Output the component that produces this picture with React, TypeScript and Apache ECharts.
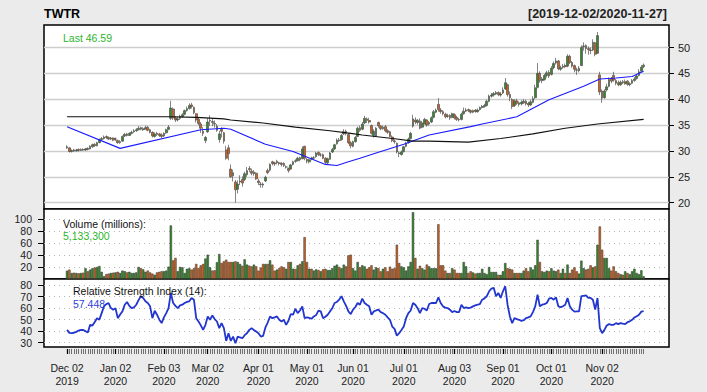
import React, { useEffect, useRef } from "react";
import * as echarts from "echarts";

// ---------- categories ----------
const startDate = "2019-12-02";
const endDate = "2020-11-27";
const holidays = ["2019-12-25", "2020-01-01", "2020-01-20", "2020-02-17", "2020-04-10", "2020-05-25", "2020-07-03", "2020-09-07", "2020-11-26"];
const monthLabelDates = ["2019-12-02", "2020-01-02", "2020-02-03", "2020-03-02", "2020-04-01", "2020-05-01", "2020-06-01", "2020-07-01", "2020-08-03", "2020-09-01", "2020-10-01", "2020-11-02"];
const monthNames = ["Jan", "Feb", "Mar", "Apr", "May", "Jun", "Jul", "Aug", "Sep", "Oct", "Nov", "Dec"];

// ---------- price data (OHLC) ----------
const openP = [
  30.6, 30.6, 29.9, 30.2, 30.0, 30.3, 30.1, 30.3, 30.2, 30.5, 30.4, 30.8, 31.3, 31.0, 31.6, 32.2, 32.4, 32.8, 32.6, 32.3, 32.5,
  32.3, 32.0, 31.6, 31.9, 32.9, 33.3, 33.0, 33.4, 33.7, 33.9, 34.1, 34.5, 34.1, 34.3, 34.6, 34.1, 33.6, 32.8, 33.4, 33.3, 33.1,
  32.9, 33.5, 34.2, 36.3, 38.1, 36.4, 36.0, 36.3, 36.6, 37.1, 37.8, 38.2, 38.9, 38.4, 37.2, 36.1, 35.2, 33.8, 32.0,
  33.7, 35.8, 35.7, 35.3, 34.0, 32.2, 34.2, 33.5, 30.2, 30.6, 26.5, 25.2, 24.0, 22.6, 24.0, 24.5, 24.5, 25.4, 26.6, 26.1, 25.6, 25.7,
  24.2, 23.6, 23.6, 24.2, 26.2, 26.3, 27.9, 27.7, 27.7, 27.7, 27.6, 27.6, 26.9, 26.6, 26.5, 27.4, 28.1, 28.1, 28.7, 28.5, 30.9,
  28.4, 27.9, 28.6, 28.6, 28.9, 29.7, 29.2, 29.3, 28.6, 27.7, 28.4, 29.8, 30.4, 31.4, 32.1, 32.2, 33.3, 33.8, 33.2, 31.6,
  30.9, 31.8, 32.8, 34.5, 34.2, 35.4, 36.2, 35.9, 34.9, 33.0, 32.9, 35.5, 34.8, 34.3, 34.7, 33.9, 33.7, 32.7, 31.9, 31.5, 29.6, 29.3,
  29.9, 30.9, 31.6, 32.4, 34.8, 36.0, 35.5, 35.8, 34.6, 35.3, 36.0, 35.2, 35.6, 36.5, 37.5, 39.0, 37.9, 37.6, 37.1, 36.7, 36.9, 36.5,
  37.0, 36.5, 36.1, 36.1, 37.2, 37.7, 38.0, 37.8, 37.5, 37.9, 37.6, 38.0, 38.4, 38.6, 38.8, 39.6, 40.6, 40.8, 41.0, 41.3, 40.8,
  41.2, 42.0, 42.8, 40.9, 39.9, 38.8, 39.7, 39.3, 39.1, 39.3, 39.6, 39.2, 38.9, 39.4, 40.3, 42.3, 45.0, 43.6, 43.8, 44.6, 45.2,
  44.8, 46.1, 47.0, 47.4, 45.8, 46.2, 46.5, 46.4, 48.3, 47.1, 46.5, 45.7, 45.5, 46.5, 50.2, 50.4, 49.8, 49.5, 49.5, 50.9, 48.9, 44.7,
  41.6, 40.3, 41.8, 42.5, 44.0, 44.6, 43.6, 43.2, 42.8, 43.4, 43.0, 43.5, 42.8, 43.1, 43.6, 44.0, 44.6, 45.4, 46.3,
];
const highP = [
  31.1, 30.7, 30.3, 30.4, 30.4, 30.5, 30.5, 30.5, 30.6, 30.7, 31.1, 31.4, 31.5, 31.8, 32.4, 32.7, 33.0, 33.0, 32.8, 32.7, 32.6,
  32.6, 32.2, 32.1, 33.0, 33.5, 33.5, 33.6, 33.9, 34.2, 34.4, 34.8, 34.7, 34.6, 34.9, 34.8, 34.3, 33.8, 33.6, 33.7, 33.5, 33.4,
  33.6, 34.3, 35.0, 39.7, 38.4, 36.7, 36.6, 37.0, 37.3, 38.0, 38.6, 39.2, 39.3, 38.6, 37.3, 36.4, 35.6, 34.6, 32.9,
  36.3, 36.9, 36.3, 35.9, 35.2, 33.9, 34.6, 33.7, 31.0, 31.2, 27.4, 26.4, 24.4, 24.3, 25.3, 25.1, 26.0, 26.9, 27.1, 26.6, 26.3, 25.9,
  24.6, 24.0, 23.9, 25.2, 26.6, 27.6, 28.1, 27.9, 28.3, 27.9, 27.8, 27.8, 27.2, 26.8, 27.5, 28.1, 28.4, 28.9, 28.9, 30.9, 31.0,
  28.6, 28.5, 28.9, 29.0, 29.8, 29.9, 29.6, 29.5, 28.8, 28.7, 29.8, 30.6, 31.4, 32.4, 32.5, 33.3, 34.2, 34.1, 33.4, 31.9,
  32.0, 32.9, 34.7, 34.9, 35.6, 36.8, 36.5, 36.4, 35.1, 34.2, 34.6, 35.7, 35.0, 34.9, 35.0, 34.2, 33.9, 33.0, 32.2, 31.6, 29.9, 30.1,
  31.0, 31.8, 32.6, 33.7, 37.0, 36.5, 36.2, 36.3, 35.8, 36.4, 36.1, 35.8, 36.7, 37.9, 38.2, 40.2, 38.3, 37.9, 37.4, 37.2, 37.1, 37.4,
  37.3, 36.8, 36.4, 37.4, 38.4, 38.3, 38.2, 38.0, 38.0, 38.1, 38.2, 38.6, 38.9, 39.1, 39.9, 40.9, 41.2, 41.4, 41.6, 41.5, 41.4,
  42.3, 44.1, 43.0, 41.5, 40.2, 40.0, 40.1, 39.6, 39.8, 40.0, 39.9, 39.5, 39.9, 40.6, 42.8, 47.0, 45.4, 44.3, 44.9, 45.5, 45.6,
  46.4, 47.3, 48.0, 47.6, 46.5, 46.8, 46.9, 48.7, 48.6, 47.4, 46.7, 46.1, 46.4, 50.4, 51.0, 50.6, 50.2, 50.0, 51.6, 51.1, 53.0, 45.3,
  41.9, 41.9, 43.0, 44.2, 44.3, 45.3, 43.9, 43.6, 43.6, 43.7, 43.8, 43.7, 43.3, 43.9, 44.3, 44.9, 45.8, 46.6, 46.9,
];
const lowP = [
  30.4, 29.7, 29.7, 29.8, 29.9, 29.9, 30.0, 30.0, 30.0, 30.1, 30.3, 30.6, 30.8, 30.9, 31.5, 32.0, 32.2, 32.3, 32.1, 32.1, 31.9,
  31.9, 31.4, 31.4, 31.8, 32.7, 32.8, 32.9, 33.2, 33.5, 33.7, 34.0, 34.0, 33.9, 34.1, 33.8, 33.4, 32.6, 32.6, 32.9, 32.7, 32.5,
  32.7, 33.3, 34.0, 36.0, 36.0, 35.6, 35.7, 36.0, 36.4, 36.9, 37.6, 38.0, 38.2, 37.1, 35.5, 35.0, 33.5, 32.9, 31.5,
  33.5, 34.9, 34.8, 34.5, 33.7, 31.6, 32.6, 31.4, 28.3, 28.2, 24.8, 24.1, 20.0, 21.8, 23.4, 23.1, 24.2, 25.0, 25.9, 25.3, 25.2, 24.4,
  23.4, 22.9, 22.9, 24.0, 25.5, 26.0, 27.2, 27.1, 27.4, 27.2, 27.0, 26.9, 26.6, 25.8, 26.4, 27.2, 27.7, 28.0, 28.0, 28.4, 28.2,
  27.6, 27.6, 28.2, 28.3, 28.7, 29.0, 28.9, 28.4, 27.4, 27.3, 28.3, 29.6, 30.2, 31.2, 31.7, 32.0, 33.1, 33.0, 31.3, 30.5,
  30.7, 31.6, 32.7, 33.7, 34.0, 35.2, 35.4, 35.3, 33.2, 32.6, 32.7, 34.5, 34.0, 34.1, 33.6, 33.3, 32.6, 31.7, 31.4, 29.5, 28.8, 29.1,
  29.7, 30.7, 31.4, 32.2, 34.5, 35.2, 35.1, 34.2, 34.4, 35.1, 34.7, 34.9, 35.4, 36.3, 37.3, 37.6, 37.2, 36.9, 36.3, 36.4, 36.0, 36.3,
  36.1, 35.8, 35.7, 35.9, 37.0, 37.5, 37.5, 37.2, 37.3, 37.4, 37.4, 37.8, 38.2, 38.4, 38.6, 39.4, 40.3, 40.5, 40.8, 40.6, 40.5,
  41.0, 41.8, 40.5, 39.6, 38.1, 38.5, 38.9, 38.6, 38.8, 39.1, 38.8, 38.5, 38.7, 39.2, 40.0, 42.1, 43.2, 43.1, 43.6, 44.2, 44.1,
  44.6, 45.8, 46.7, 45.6, 45.5, 45.9, 46.0, 46.2, 46.8, 46.1, 45.2, 44.7, 45.2, 46.4, 49.4, 48.8, 48.6, 48.7, 49.3, 48.3, 48.8, 40.8,
  39.3, 40.1, 41.5, 42.3, 43.1, 43.4, 42.7, 42.5, 42.6, 42.9, 42.8, 42.6, 42.5, 42.9, 43.4, 43.8, 44.4, 45.2, 46.0,
];
const closeP = [
  30.8, 29.9, 30.1, 30.0, 30.2, 30.1, 30.3, 30.2, 30.4, 30.3, 30.9, 31.2, 31.0, 31.6, 32.1, 32.4, 32.7, 32.6, 32.3, 32.5, 32.1,
  32.3, 31.6, 31.8, 32.8, 33.2, 33.0, 33.4, 33.6, 33.9, 34.1, 34.4, 34.2, 34.3, 34.5, 34.0, 33.6, 32.9, 33.3, 33.2, 33.0, 32.8,
  33.4, 34.1, 34.6, 38.3, 36.4, 36.0, 36.2, 36.7, 37.0, 37.8, 38.2, 38.8, 38.6, 37.4, 36.0, 35.3, 34.4, 33.4, 32.6,
  35.6, 35.9, 35.5, 35.2, 34.8, 33.3, 33.8, 31.9, 28.6, 29.5, 25.0, 25.8, 22.5, 23.6, 24.2, 23.8, 25.6, 26.2, 26.4, 25.7, 25.9, 24.6,
  23.9, 23.5, 23.4, 24.9, 25.8, 27.4, 27.6, 27.5, 28.0, 27.6, 27.4, 27.2, 26.9, 26.2, 27.3, 27.9, 28.0, 28.6, 28.3, 30.4, 28.6,
  28.0, 28.3, 28.5, 28.7, 29.6, 29.3, 29.2, 28.6, 27.8, 28.5, 29.6, 30.3, 31.2, 32.1, 32.0, 33.0, 33.7, 33.4, 31.6, 31.0,
  31.8, 32.6, 34.4, 34.0, 35.2, 36.3, 35.9, 35.6, 33.4, 33.8, 34.4, 34.9, 34.3, 34.6, 33.9, 33.6, 32.8, 32.0, 31.8, 29.8, 29.5, 29.8,
  30.8, 31.5, 32.3, 33.4, 36.2, 35.6, 35.9, 34.4, 35.4, 36.1, 35.0, 35.5, 36.4, 37.6, 37.9, 38.0, 37.6, 37.2, 36.6, 36.8, 36.4, 37.2,
  36.4, 36.1, 36.0, 37.1, 37.7, 37.9, 37.8, 37.5, 37.8, 37.6, 37.9, 38.4, 38.6, 38.8, 39.6, 40.6, 40.8, 41.1, 41.3, 40.9, 41.0,
  41.8, 43.2, 40.9, 40.3, 38.6, 39.6, 39.2, 39.0, 39.4, 39.6, 39.1, 38.9, 39.5, 40.1, 42.2, 45.0, 43.6, 43.9, 44.6, 45.1, 44.5,
  46.0, 46.9, 47.4, 45.9, 46.1, 46.4, 46.3, 48.3, 47.1, 46.4, 45.8, 45.6, 46.0, 50.0, 50.3, 49.8, 49.6, 49.4, 51.0, 48.7, 52.3, 41.4,
  40.2, 41.6, 42.4, 43.8, 43.5, 43.7, 43.1, 42.8, 43.3, 43.2, 43.4, 42.9, 43.0, 43.6, 43.9, 44.5, 45.3, 46.2, 46.59,
];

// ---------- volume (millions) ----------
const volumeM = [
  13.9, 15.6, 10, 10.5, 10, 9.5, 10, 10.5, 18, 12.8, 15.6, 18, 19, 20, 21.6, 12, 4.5, 8, 9, 10, 10.5,
  11, 12, 10, 14, 13, 11, 12, 10, 10, 11, 20, 18, 16, 12, 14, 11, 9, 7, 11, 12, 13,
  13, 14, 20.5, 89, 31, 35, 13, 20, 19.5, 10, 17, 18, 15.6, 18, 25, 18, 22.8, 25, 34,
  40.4, 19.4, 14, 14.5, 28, 41.5, 26.6, 29.4, 32.1, 28.3, 28.3, 28.3, 29.4, 28.3, 25, 22, 32.7, 23.9, 22.2, 21, 23.9, 21,
  13.9, 19, 25, 25, 25, 31, 23.9, 13.9, 15.6, 18, 21, 19.4, 17, 28.3, 28.3, 17, 16.6, 22.8, 25, 29.4, 69.6,
  28.3, 17, 17, 14, 16, 15, 13, 16, 17, 15, 15, 18, 22, 23.9, 20, 18, 23.9, 21, 39.3, 40.4,
  18, 14, 28.3, 19.4, 22.8, 21, 17, 19.4, 22.8, 15.6, 19.4, 18, 12.8, 17, 19.4, 12.8, 20.5, 17, 18, 57, 26.6, 21,
  19.4, 14, 21, 28.3, 111, 35, 17, 22, 18, 15.6, 24, 21, 18, 18, 18, 91, 22.8, 22.8, 14, 10, 10, 18,
  15.6, 10, 10, 10, 28.3, 21, 10, 12.8, 11, 9, 10, 10, 17, 10, 8, 20, 11.7, 11.7, 11.7, 7, 7,
  12.8, 26.6, 18, 17, 15.6, 10, 10, 10, 10, 13.9, 18, 12.8, 19.4, 15.6, 22.8, 65.2, 28.3, 12.8, 11.7, 13.9, 12.8,
  18, 13.9, 12.8, 15.6, 10, 17, 10, 24, 10, 15.6, 19.4, 12.8, 9, 30.5, 18, 15.6, 17, 22.8, 19.4, 21, 57, 87.3,
  48.7, 35, 35, 18, 13.9, 21, 12.8, 10, 8, 7, 12.8, 10, 8, 12.8, 17, 10, 8, 14.5, 4.5,
];

// ---------- RSI(14) ----------
const rsi14 = [
  41.1, 38.5, 38.2, 38.6, 39.4, 40.5, 41.1, 41.0, 40.0, 38.8,
  45.5, 44.9, 48.0, 51.3, 50.0, 55.7, 61.6, 63.5, 64.5, 60.1,
  58.7, 60.0, 51.3, 54.5, 57.2, 63.0, 65.4, 62.0, 60.0, 60.7,
  63.0, 67.0, 70.4, 68.9, 66.0, 64.5, 61.6, 51.3, 57.8, 54.3,
  50.0, 47.0, 52.0, 55.7, 60.1, 73.3, 64.5, 62.0, 60.1, 62.5,
  63.0, 64.5, 65.5, 66.0, 68.9, 67.4, 51.3, 48.4, 45.0, 41.1,
  45.5, 52.8, 49.9, 53.7, 50.5, 48.4, 42.6, 47.0, 42.6, 31.5,
  38.2, 31.5, 35.3, 29.4, 35.3, 34.5, 33.8, 36.5, 38.2, 41.1,
  42.6, 41.0, 39.6, 38.2, 35.3, 35.8, 43.2, 47.5, 52.8, 51.3,
  52.0, 52.8, 49.9, 48.4, 49.9, 45.5, 49.0, 54.9, 54.3, 59.5,
  55.7, 58.0, 61.6, 51.3, 51.9, 51.5, 50.8, 52.8, 54.0, 57.8,
  57.2, 51.3, 52.5, 54.3, 57.2, 60.0, 64.5, 65.4, 67.5, 70.4,
  66.0, 62.0, 57.2, 54.9, 58.7, 61.0, 64.5, 63.0, 68.3, 64.5,
  63.0, 61.6, 54.3, 57.2, 58.0, 58.7, 56.5, 55.7, 54.3, 52.0,
  49.9, 44.0, 42.0, 36.1, 38.2, 41.0, 44.0, 51.3, 55.7, 58.0,
  64.5, 63.0, 60.0, 55.7, 60.1, 59.5, 58.0, 63.6, 64.5, 64.5,
  64.5, 69.5, 64.5, 61.6, 60.5, 60.1, 58.7, 56.6, 57.5, 56.6,
  56.6, 63.0, 60.1, 60.7, 60.1, 60.5, 61.6, 62.5, 63.0, 63.6,
  67.4, 68.5, 70.4, 74.7, 77.1, 77.7, 70.4, 73.3, 68.9, 74.7,
  79.1, 63.0, 52.8, 47.0, 51.3, 50.5, 49.9, 49.0, 49.5, 51.3,
  52.0, 52.8, 56.6, 61.6, 71.8, 61.6, 63.0, 63.5, 64.5, 68.3,
  68.9, 67.4, 69.5, 61.6, 61.0, 61.6, 63.0, 68.9, 61.6, 58.7,
  57.0, 57.2, 57.2, 70.4, 70.8, 71.2, 68.9, 68.9, 67.4, 58.7,
  68.9, 42.6, 38.2, 41.1, 44.9, 46.1, 45.5, 45.5, 47.0, 46.1,
  47.0, 46.5, 46.1, 47.8, 48.5, 49.9, 51.9, 53.0, 54.3, 57.0,
  57.45,
];

// ---------- moving averages (read at visible vertices) ----------
const sma50Index = [0, 23, 58, 68, 71, 86, 98, 112, 117, 122, 127, 134, 146, 157, 175, 180, 195, 209, 224, 231, 238, 245, 250];
const sma50Value = [34.7, 30.5, 34.1, 34.4, 34.2, 31.3, 29.9, 27.4, 27.2, 27.9, 28.6, 29.6, 31.3, 33.1, 34.7, 35.2, 36.6, 39.9, 42.5, 43.9, 44.1, 44.4, 45.4];
const sma200Index = [0, 45, 56, 68, 71, 85, 99, 114, 123, 128, 143, 150, 157, 174, 188, 202, 216, 230, 250];
const sma200Value = [36.6, 36.6, 36.5, 36.2, 36.0, 35.4, 34.6, 33.9, 33.4, 33.1, 32.3, 31.9, 31.9, 31.7, 32.4, 33.3, 34.4, 35.2, 36.1];

// ---------- axis ticks / texts ----------
const priceTicks = [20, 25, 30, 35, 40, 45, 50];
const volumeTicks = [20, 40, 60, 80, 100];
const rsiTicks = [30, 40, 50, 60, 70, 80];
const titleText = "TWTR";
const rangeText = "[2019-12-02/2020-11-27]";
const lastText = "Last 46.59";
const volumeTitle = "Volume (millions):";
const volumeLast = "5,133,300";
const rsiTitle = "Relative Strength Index (14):";
const rsiLast = "57.448";

const PAD_L = 10;
const PAD_R = 11;
const FONT = '"Liberation Sans", Arial, Helvetica, sans-serif';
const UP = "#35882a";
const DOWN = "#d0601c";

function buildDates(): string[] {
  const out: string[] = [];
  const d = new Date(startDate + "T00:00:00Z");
  const end = new Date(endDate + "T00:00:00Z");
  while (d.getTime() <= end.getTime()) {
    const wd = d.getUTCDay();
    const s = d.toISOString().slice(0, 10);
    if (wd !== 0 && wd !== 6 && holidays.indexOf(s) < 0) out.push(s);
    d.setUTCDate(d.getUTCDate() + 1);
  }
  return out;
}

export default function App() {
  const ref = useRef<HTMLDivElement>(null);

  useEffect(() => {
    if (!ref.current) return;
    document.body.style.margin = "0";
    const chart = echarts.init(ref.current, null, { renderer: "svg" });

    const dates = buildDates();
    const n = dates.length;
    const cats: string[] = [];
    for (let i = 0; i < PAD_L; i++) cats.push("padL" + i);
    dates.forEach((d) => cats.push(d));
    for (let i = 0; i < PAD_R; i++) cats.push("padR" + i);
    const total = cats.length;

    const monthSet = new Set<number>();
    monthLabelDates.forEach((m) => {
      const k = dates.indexOf(m);
      if (k >= 0) monthSet.add(k + PAD_L);
    });
    const isMonth = (idx: number) => monthSet.has(idx);
    const isData = (idx: number) => idx >= PAD_L && idx < PAD_L + n;

    const candleData: any[] = [];
    const volData: any[] = [];
    const rsiData: any[] = [];
    const sma50Data: any[] = [];
    const sma200Data: any[] = [];
    for (let j = 0; j < total; j++) {
      const i = j - PAD_L;
      if (i >= 0 && i < n) {
        candleData.push([openP[i], closeP[i], lowP[i], highP[i]]);
        const up = closeP[i] >= openP[i];
        volData.push({ value: volumeM[i], itemStyle: { color: up ? UP : DOWN } });
        rsiData.push(rsi14[i]);
      } else {
        candleData.push([null, null, null, null]);
        volData.push(null);
        rsiData.push(null);
      }
      const a = sma50Index.indexOf(i);
      sma50Data.push(a >= 0 ? sma50Value[a] : null);
      const b = sma200Index.indexOf(i);
      sma200Data.push(b >= 0 ? sma200Value[b] : null);
    }

    const gridBase = { show: true, backgroundColor: "#ffffff", borderColor: "#000000", borderWidth: 1.5 };
    const axisText = { fontSize: 11, color: "#222222", fontFamily: FONT };

    const option: any = {
      animation: false,
      backgroundColor: "#ebebeb",
      grid: [
        { ...gridBase, left: 44, top: 25, width: 625, height: 184 },
        { ...gridBase, left: 44, top: 209, width: 625, height: 70 },
        { ...gridBase, left: 44, top: 279, width: 625, height: 68 },
      ],
      xAxis: [
        { gridIndex: 0, type: "category", data: cats, boundaryGap: false, show: false },
        { gridIndex: 1, type: "category", data: cats, boundaryGap: false, show: false },
        {
          gridIndex: 2, type: "category", data: cats, boundaryGap: false, position: "bottom", offset: 2,
          axisLine: { show: false },
          axisTick: { show: true, interval: (idx: number) => isData(idx), length: 5, lineStyle: { color: "#707070", width: 1 } },
          axisLabel: { show: false },
          splitLine: { show: false },
        },
        {
          gridIndex: 2, type: "category", data: cats, boundaryGap: false, position: "bottom", offset: 2,
          axisLine: { show: false },
          axisTick: { show: true, interval: (idx: number) => isMonth(idx), length: 5, lineStyle: { color: "#000000", width: 1.3 } },
          axisLabel: {
            show: true,
            interval: (idx: number) => isMonth(idx),
            margin: 12,
            fontSize: 10.5,
            lineHeight: 13,
            color: "#222222",
            fontFamily: FONT,
            formatter: (v: string) => {
              if (!/^\d{4}-\d{2}-\d{2}$/.test(v)) return "";
              const [y, m, d] = v.split("-");
              return monthNames[parseInt(m, 10) - 1] + " " + d + "\n" + y;
            },
          },
          splitLine: { show: false },
        },
      ],
      yAxis: [
        {
          gridIndex: 0, type: "value", position: "right", min: 18.78, max: 54.35, splitNumber: 7,
          axisLine: { show: false },
          axisTick: { show: true, length: 5, lineStyle: { color: "#000" }, customValues: priceTicks },
          axisLabel: { ...axisText, margin: 9, customValues: priceTicks },
          splitLine: { show: true, lineStyle: { color: "#cdcdcd", width: 1.3 } },
        },
        {
          gridIndex: 1, type: "value", position: "left", min: 0, max: 116.3, splitNumber: 6,
          axisLine: { show: false },
          axisTick: { show: true, length: 6, lineStyle: { color: "#000" }, customValues: volumeTicks },
          axisLabel: { ...axisText, fontSize: 10.5, margin: 12, customValues: volumeTicks },
          splitLine: { show: true, lineStyle: { color: "#b4b4b4", width: 1, type: [1, 4] } },
        },
        {
          gridIndex: 2, type: "value", position: "left", min: 26.2, max: 85.4, splitNumber: 6,
          axisLine: { show: false },
          axisTick: { show: true, length: 6, lineStyle: { color: "#000" }, customValues: rsiTicks },
          axisLabel: { ...axisText, fontSize: 10.5, margin: 12, customValues: rsiTicks },
          splitLine: { show: true, lineStyle: { color: "#b4b4b4", width: 1, type: [1, 4] } },
        },
      ],
      series: [
        {
          type: "candlestick", xAxisIndex: 0, yAxisIndex: 0, data: candleData, barWidth: 2.2, z: 2,
          itemStyle: { color: UP, color0: DOWN, borderColor: "#505050", borderColor0: "#505050", borderWidth: 0.7 },
        },
        {
          type: "line", xAxisIndex: 0, yAxisIndex: 0, data: sma50Data, connectNulls: true, showSymbol: false, z: 3,
          lineStyle: { color: "#1a1aff", width: 1.1 },
        },
        {
          type: "line", xAxisIndex: 0, yAxisIndex: 0, data: sma200Data, connectNulls: true, showSymbol: false, z: 3,
          lineStyle: { color: "#111111", width: 1.1 },
        },
        {
          type: "bar", xAxisIndex: 1, yAxisIndex: 1, data: volData, barWidth: 2.3,
          itemStyle: { borderColor: "#333333", borderWidth: 0.5 },
        },
        {
          type: "line", xAxisIndex: 2, yAxisIndex: 2, data: rsiData, showSymbol: false,
          lineStyle: { color: "#2236cf", width: 1.8 },
        },
      ],
      graphic: [
        { type: "text", x: 44, y: 13.5, style: { text: titleText, fontSize: 12.5, fontWeight: "bold", fontFamily: FONT, fill: "#000", align: "left", verticalAlign: "middle" } },
        { type: "text", x: 667, y: 14, style: { text: rangeText, fontSize: 12.5, fontWeight: "bold", fontFamily: FONT, fill: "#222", align: "right", verticalAlign: "middle" } },
        { type: "text", x: 63, y: 38, z: 10, style: { text: lastText, fontSize: 10.5, fontFamily: FONT, fill: "#2cb52c", align: "left", verticalAlign: "middle" } },
        { type: "text", x: 63, y: 223.5, z: 10, style: { text: volumeTitle, fontSize: 10.5, fontFamily: FONT, fill: "#111", align: "left", verticalAlign: "middle" } },
        { type: "text", x: 63, y: 235.5, z: 10, style: { text: volumeLast, fontSize: 10.5, fontFamily: FONT, fill: "#2cb52c", align: "left", verticalAlign: "middle" } },
        { type: "text", x: 73, y: 291, z: 10, style: { text: rsiTitle, fontSize: 10.5, fontFamily: FONT, fill: "#111", align: "left", verticalAlign: "middle" } },
        { type: "text", x: 73, y: 304, z: 10, style: { text: rsiLast, fontSize: 10.5, fontFamily: FONT, fill: "#2f3fd8", align: "left", verticalAlign: "middle" } },
      ],
    };

    chart.setOption(option);
    return () => chart.dispose();
  }, []);

  return <div ref={ref} style={{ position: "absolute", left: 0, top: 0, width: 707, height: 392 }} />;
}
